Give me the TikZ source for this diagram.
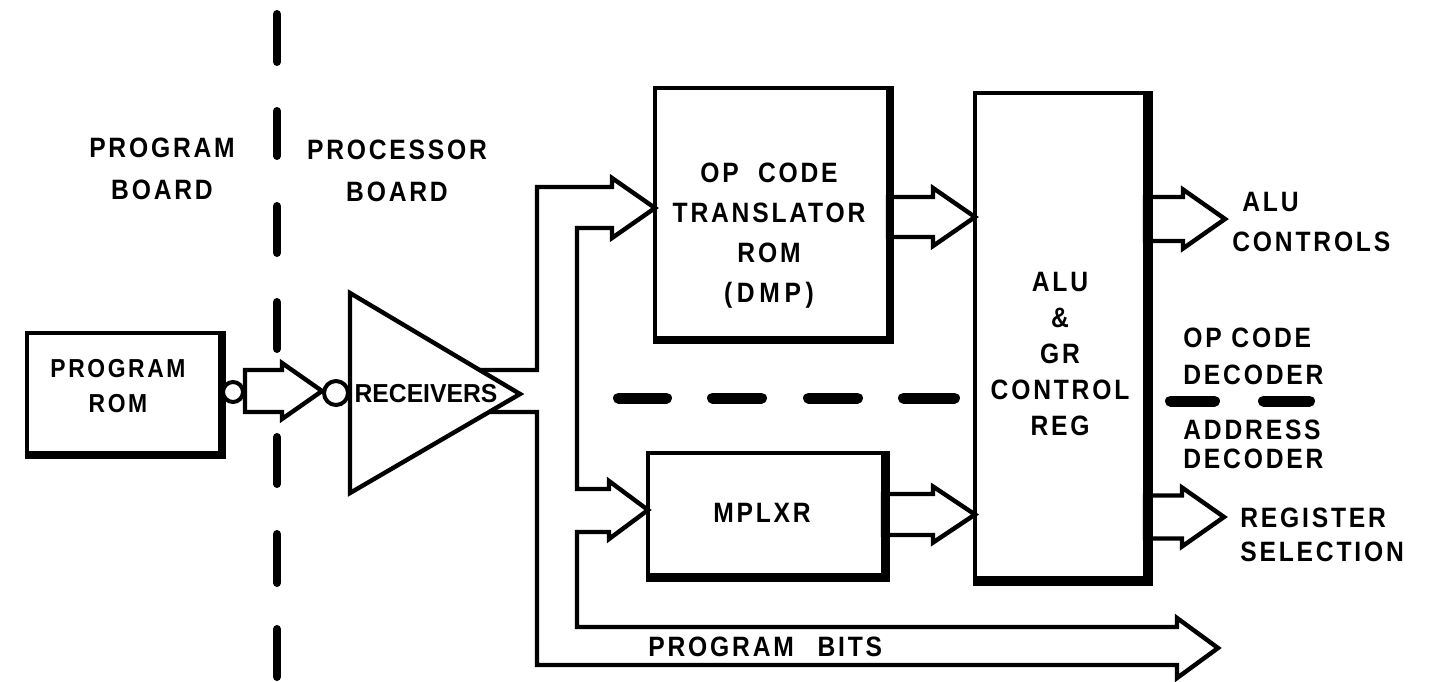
\documentclass[tikz,border=0pt]{standalone}
\usepackage{fontspec}
\usetikzlibrary{calc}
\newfontfamily\lbl{Liberation Sans}[FakeStretch=0.88,LetterSpace=10]
\newfontfamily\rxf{Liberation Sans}[FakeStretch=0.95]

% wide bus arrow: tail, tip, y of centre line, head length, shaft half-width, head half-width
\newcommand\busarrow[6]{%
  \draw[wire] ($(#1 |- 0,#3)+(0,-#5)$) -- ($(#2 |- 0,#3)+(-#4,-#5)$)
    -- ($(#2 |- 0,#3)+(-#4,-#6)$) -- (#2 |- 0,#3)
    -- ($(#2 |- 0,#3)+(-#4,#6)$) -- ($(#2 |- 0,#3)+(-#4,#5)$)
    -- ($(#1 |- 0,#3)+(0,#5)$) -- cycle;}
% heavier right and bottom edges of a block
\newcommand\heavyedge[3]{%
  \draw[line width=#2,line cap=butt,line join=miter]
    ([xshift=#3,yshift=1pt]#1.north east) -- ([xshift=#3,yshift=-#3]#1.south east)
    -- ([xshift=-1pt,yshift=-#3]#1.south west);}

\begin{document}
\begin{tikzpicture}[x=0.5pt,y=-0.5pt,
  wire/.style={line width=2.2pt,line join=miter,line cap=butt},
  blk/.style={draw,line width=2pt,inner sep=0pt,outer sep=0pt},
  bubble/.style={draw,circle,line width=2pt,inner sep=0pt,fill=white},
  lab/.style={inner sep=0pt,align=center,font=\lbl\bfseries\fontsize{14pt}{#1}\selectfont},
  lab/.default=20pt,
  divider/.style={line width=4pt,line cap=round},
  split/.style={line width=5.5pt,line cap=round}]

\fill[white] (0,0) rectangle (1443,681);
\useasboundingbox (0,0) rectangle (1443,681);

% board boundary
\foreach \a/\b in {10/66,107/160,202/257,298/353,433/488,530/587,625/681}
  \draw[divider] (277,\a+4) -- (277,\b-4);
\node[lab=21pt] (pgmboard) at (162,169) {PROGRAM\\BOARD};
\node[lab=21pt] (procboard) at (397,171) {PROCESSOR\\BOARD};

% program ROM
\node[blk,minimum width=96.5pt,minimum height=60pt] (rom) at (123.5,393) {};
\heavyedge{rom}{4pt}{1pt}
\node[inner sep=0pt,align=center,font=\lbl\bfseries\fontsize{13pt}{17.5pt}\selectfont]
  (romtxt) at (118,386) {PROGRAM\\ROM};
\node[bubble,minimum size=10pt] (bub1) at (233,392) {};
\node[bubble,minimum size=12pt] (bub2) at (336,393) {};
\busarrow{bub1.east}{bub2.west}{391}{40}{21}{28}

% receivers
\coordinate (rxa) at (350,293);
\coordinate (rxb) at (350,493);
\coordinate (rxt) at (520,394);
\draw[wire] (rxa) -- (rxt) -- (rxb) -- cycle;
\node[inner sep=0pt,font=\rxf\bfseries\fontsize{13pt}{13pt}\selectfont] (rx) at (426,394) {RECEIVERS};

% blocks
\node[blk,minimum width=116.5pt,minimum height=125pt] (op) at (771.5,213) {};
\heavyedge{op}{4pt}{1pt}
\node[lab=20pt] (optxt) at (769,236) {OP\ \ CODE\\TRANSLATOR\\ROM\\(\,D\,M\,P\,)};

\node[blk,minimum width=117.5pt,minimum height=61pt] (mplxr) at (765.5,514) {};
\heavyedge{mplxr}{4.5pt}{1.25pt}
\node[lab] (mptxt) at (762,513) {MPLXR};

\node[blk,minimum width=85pt,minimum height=242.5pt] (alu) at (1060,335.5) {};
\heavyedge{alu}{5pt}{1.5pt}
\node[lab=18pt] (alutxt) at (1060,354) {ALU\\\&\\GR\\CONTROL\\REG};

% receiver outputs: two feeds and the program bits bus
\coordinate (bitsend) at (1218,648);
\draw[wire] ($(rxa)!0.762!(rxt)$) -| (537,187) -- (612,187) -- (612,178)
  -- (op.west |- 0,208) -- (612,238) -- (612,228) -| (577,489)
  -- (609,489) -- (609,481) -- (mplxr.west |- 0,510) -- (609,539) -- (609,532)
  -| (577,627) -- (1177,627) -- (1177,618) -- (bitsend) -- (1177,678)
  -- (1177,665) -| (537,412) -- ($(rxb)!0.818!(rxt)$);
\node[lab,anchor=west] (bits) at (648,647) {PROGRAM\hspace{7pt} BITS};

% block to block buses
\busarrow{op.east}{alu.west}{217}{42}{20}{29}
\busarrow{mplxr.east}{alu.west}{514.5}{42}{20.5}{28}

% outputs of the control register
\coordinate (aluctl) at (1225,219);
\coordinate (regsel) at (1224,517);
\busarrow{alu.east}{aluctl}{219}{42}{22}{29.5}
\busarrow{alu.east}{regsel}{517}{42}{21.5}{29.5}

% op code / address split
\foreach \a/\b in {613/672,707/767,803/863,898/960}
  \draw[split] (\a+5.5,398) -- (\b-5.5,398);
\foreach \a/\b in {1165/1220,1258/1315}
  \draw[split] (\a+5.5,401) -- (\b-5.5,401);

% output labels
\node[lab,anchor=west] (lalu) at (1242,202) {ALU};
\node[lab,anchor=west] (lctl) at (1232,242) {CONTROLS};
\node[lab,anchor=west] (lopc) at (1183,338) {OP CODE};
\node[lab,anchor=west] (ldec1) at (1183,375) {DECODER};
\node[lab,anchor=west] (ladr) at (1183,430) {ADDRESS};
\node[lab,anchor=west] (ldec2) at (1183,459) {DECODER};
\node[lab,anchor=west] (lreg) at (1240,518) {REGISTER};
\node[lab,anchor=west] (lsel) at (1240,552) {SELECTION};
\end{tikzpicture}
\end{document}
